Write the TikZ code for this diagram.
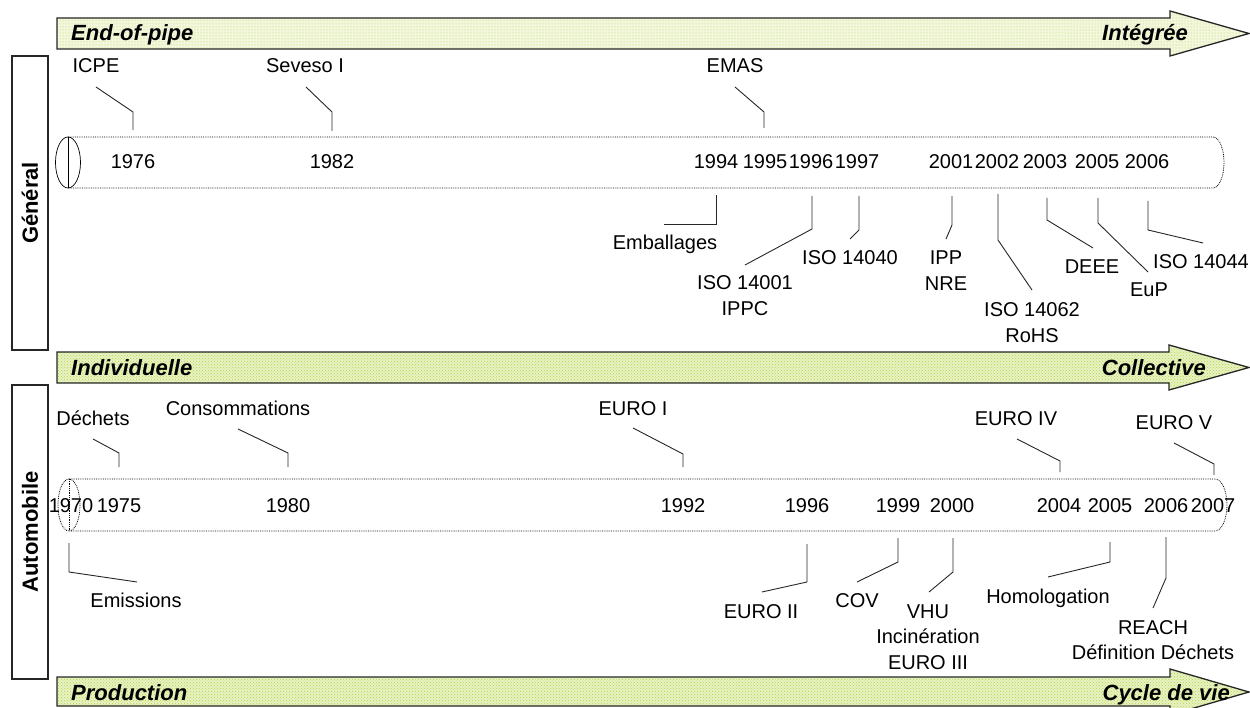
\documentclass[tikz,border=0pt]{standalone}
\usepackage{fontspec}
\setmainfont{Liberation Sans}
\usetikzlibrary{patterns}
\definecolor{barfillA}{RGB}{242,247,222}
\definecolor{barfillB}{RGB}{232,242,196}
\definecolor{bardot}{RGB}{180,212,70}
\newcommand\callout[4]{\coordinate (#1-l) at (#2); \coordinate (#1-y) at (#4); \draw[cl] (#1-l) -- (#3) -- (#1-y);}
\newcommand\stk[1]{\vtop{\halign{\hfil##\hfil\cr#1\crcr}}}
\tikzset{
  lbl/.style={font=\fontsize{20}{25.5}\selectfont, inner sep=0pt, anchor=base},
  arrA/.style={draw=black!85, line width=1.3pt, line join=miter, preaction={fill=barfillA}, pattern=dots, pattern color=bardot},
  arrB/.style={draw=black!85, line width=1.3pt, line join=miter, preaction={fill=barfillB}, pattern=crosshatch dots, pattern color=bardot},
  arrtxt/.style={font=\fontsize{22}{26}\selectfont\bfseries\itshape, inner sep=0pt},
  side/.style={draw=black!85, line width=1.3pt},
  sidetxt/.style={font=\fontsize{22}{26}\selectfont\bfseries, rotate=90, inner sep=0pt},
  cyl/.style={densely dotted, line width=0.8pt},
  cl/.style={draw=black!85, line width=0.9pt}
}
\begin{document}
\begin{tikzpicture}[x=1pt,y=-1pt]
\useasboundingbox (0,0) rectangle (1250,708);

% ---- arrows
\path[arrA] (57,18) -- (1170,18) -- (1170,11) -- (1249,33.5) -- (1170,56) -- (1170,49) -- (57,49) -- cycle;
\path[arrB] (57,352) -- (1169,352) -- (1169,345) -- (1249,367.5) -- (1169,390) -- (1169,383) -- (57,383) -- cycle;
\path[arrB] (57,677) -- (1170,677) -- (1170,669) -- (1249,692) -- (1170,715) -- (1170,706) -- (57,706) -- cycle;
\node[arrtxt, anchor=base west] (t1) at (71,41) {End-of-pipe};
\node[arrtxt, anchor=base east] (t2) at (1188,41) {Intégrée};
\node[arrtxt, anchor=base west] (t3) at (71,375) {Individuelle};
\node[arrtxt, anchor=base east] (t4) at (1206,375) {Collective};
\node[arrtxt, anchor=base west] (t5) at (71,700) {Production};
\node[arrtxt, anchor=base east] (t6) at (1230,700) {Cycle de vie};

% ---- side boxes
\draw[side] (12,56) rectangle (48,350);
\node[sidetxt] (gen) at (30,203) {Général};
\draw[side] (12,385) rectangle (48,679);
\node[sidetxt] (auto) at (30,532) {Automobile};

% ---- cylinder 1
\draw[cyl] (68,137) -- (1213,137) arc[start angle=-90, end angle=90, x radius=11, y radius=25.5] -- (68,188);
\draw[line width=0.7pt] (68,162.5) ellipse [x radius=12.5, y radius=25.5];
\draw[line width=0.7pt] (68,137) -- (68,188);

% ---- cylinder 2
\draw[cyl] (69,479) -- (1215,479) arc[start angle=-90, end angle=90, x radius=12, y radius=26] -- (69,531);
\draw[cyl] (69,505) ellipse [x radius=11, y radius=26];
\draw[cyl] (69,479) -- (69,531);

% ---- years general
\foreach \n/\x in {1976/133,1982/332,1994/716,1995/765,1996/811,1997/857,2001/951,2002/997,2003/1045,2005/1097,2006/1147}
  \node[lbl] (y\n) at (\x,169) {\n};
% ---- years automobile
\foreach \n/\x in {1970/71,1975/119,1980/288,1992/683,1996/807,1999/898,2000/952,2004/1059,2005/1110,2006/1166,2007/1213}
  \node[lbl] (a\n) at (\x,512) {\n};

% ---- labels general
\node[lbl] (icpe) at (96,73) {ICPE};
\node[lbl] (seveso) at (305,73) {Seveso I};
\node[lbl] (emas) at (735,73) {EMAS};
\node[lbl] (emb) at (665,250) {Emballages};
\node[lbl] (iso14001) at (745,290) {\stk{ISO 14001\cr IPPC}};
\node[lbl] (iso14040) at (850,265) {ISO 14040};
\node[lbl] (ipp) at (946,265) {\stk{IPP\cr NRE}};
\node[lbl] (iso14062) at (1032,317) {\stk{ISO 14062\cr RoHS}};
\node[lbl] (deee) at (1092,274) {DEEE};
\node[lbl] (eup) at (1149,297) {EuP};
\node[lbl] (iso14044) at (1201,269) {ISO 14044};

\callout{icpe}{96,87}{133,112}{133,130}
\callout{seveso}{306,87}{332,112}{332,131}
\callout{emas}{735,87}{764,112}{764,128}
\callout{emb}{664,224}{716,224}{716,195}
\callout{iso14001}{745,265}{812,229}{812,196}
\callout{iso14040}{850,239}{859,230}{859,196}
\callout{ipp}{946,239}{952,225}{952,196}
\callout{iso14062}{1032,290}{998,240}{998,194}
\callout{deee}{1093,248}{1047,220}{1047,198}
\callout{eup}{1148,272}{1098,223}{1098,198}
\callout{iso14044}{1203,243}{1148,230}{1148,201}

% ---- labels automobile
\node[lbl] (dech) at (93,425) {Déchets};
\node[lbl] (conso) at (238,415) {Consommations};
\node[lbl] (euro1) at (633,415) {EURO I};
\node[lbl] (euro4) at (1016,425) {EURO IV};
\node[lbl] (euro5) at (1174,429) {EURO V};
\node[lbl] (emis) at (136,607) {Emissions};
\node[lbl] (euro2) at (761,618) {EURO II};
\node[lbl] (cov) at (857,607) {COV};
\node[lbl] (vhu) at (928,618) {\stk{VHU\cr Incinération\cr EURO III}};
\node[lbl] (homol) at (1048,603) {Homologation};
\node[lbl] (reach) at (1153,634) {\stk{REACH\cr Définition Déchets}};

\callout{dech}{93,439}{119,453}{119,467}
\callout{conso}{238,429}{288,453}{288,467}
\callout{euro1}{633,428}{683,454}{683,467}
\callout{euro4}{1017,439}{1060,461}{1060,472}
\callout{euro5}{1174,443}{1214,464}{1214,475}
\callout{emis}{137,582}{69,572}{69,543}
\callout{euro2}{762,592}{807,582}{807,544}
\callout{cov}{857,582}{898,562}{898,538}
\callout{vhu}{929,592}{953,572}{953,538}
\callout{homol}{1048,577}{1110,562}{1110,542}
\callout{reach}{1153,608}{1166,578}{1166,537}
\end{tikzpicture}
\end{document}
